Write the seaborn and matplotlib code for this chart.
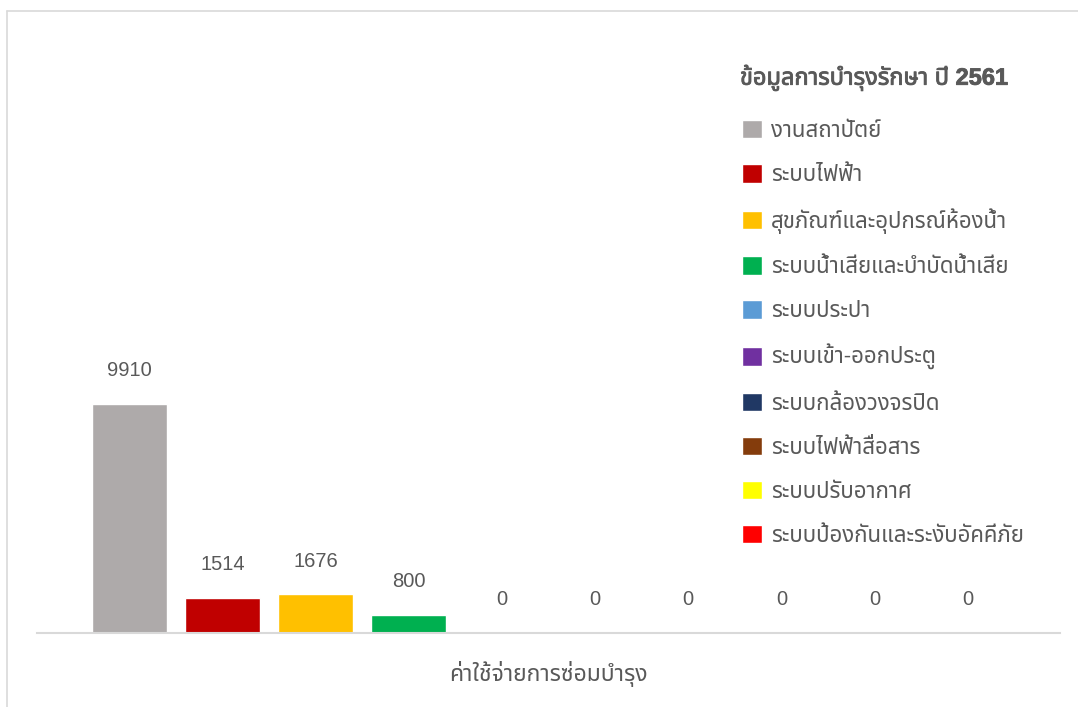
import matplotlib
matplotlib.use("Agg")
import matplotlib.pyplot as plt
import seaborn as sns
import pandas as pd
from matplotlib import font_manager
from matplotlib.ft2font import FT2Font
from matplotlib.lines import Line2D
import matplotlib.patheffects as pe

# ---------------- data ----------------
category = ["ค่าใช้จ่ายการซ่อมบำรุง"]
systems = ["งานสถาปัตย์", "ระบบไฟฟ้า", "สุขภัณฑ์และอุปกรณ์ห้องน้ำ",
           "ระบบน้ำเสียและบำบัดน้ำเสีย", "ระบบประปา", "ระบบเข้า-ออกประตู",
           "ระบบกล้องวงจรปิด", "ระบบไฟฟ้าสื่อสาร", "ระบบปรับอากาศ",
           "ระบบป้องกันและระงับอัคคีภัย"]
values = [9910, 1514, 1676, 800, 0, 0, 0, 0, 0, 0]
colors = ["#AEAAAA", "#C00000", "#FFC000", "#00B050", "#5B9BD5",
          "#7030A0", "#203864", "#843C0C", "#FFFF00", "#FF0000"]
legend_title = "ข้อมูลการบำรุงรักษา ปี 2561"

# ---------------- fonts ----------------
thai_font = None
cands = []
for f in font_manager.fontManager.ttflist:
    try:
        cm = FT2Font(f.fname).get_charmap()
        if 0x0E01 in cm and 0x0E33 in cm:
            cands.append(f.name)
    except Exception:
        pass
pref = ["Noto Sans Thai", "Noto Sans Thai UI", "Loma", "Garuda", "Umpush", "Waree"]
for p in pref:
    if p in cands:
        thai_font = p
        break
if thai_font is None and cands:
    thai_font = cands[0]

sns.set_theme(style="white")
fam = ["Liberation Sans"] + ([thai_font] if thai_font else []) + ["DejaVu Sans"]
plt.rcParams["font.family"] = fam

TXT = "#595959"

df = pd.DataFrame({"cat": category * len(systems), "system": systems, "value": values})

W, H = 1078, 707
fig = plt.figure(figsize=(W / 100, H / 100), dpi=100)
left, right, base = 37, 1060, 633
ymax = 25000
top = base - 229 * ymax / 9910
ax = fig.add_axes([left / W, (H - base) / H, (right - left) / W, (base - top) / H])

sns.barplot(data=df, x="cat", y="value", hue="system", hue_order=systems,
            palette=colors, width=0.911, gap=0.195, dodge=True, ax=ax,
            saturation=1, legend=True)
ax.set_ylim(0, ymax)
ax.set_xlim(-0.5, 0.5)
for c in ax.containers:
    ax.bar_label(c, padding=17, fontsize=14.5, color=TXT)

handles, labels = ax.get_legend_handles_labels()
ax.get_legend().remove()
leg = fig.legend(handles, labels, loc="upper left",
                 bbox_to_anchor=(722 / W, 1 - 100 / H), frameon=False,
                 fontsize=16, handlelength=0.9, handleheight=0.9,
                 handletextpad=0.4, labelspacing=1.0)
for t in leg.get_texts():
    t.set_color(TXT)

fig.text(740 / W, 1 - 78 / H, legend_title, ha="left", va="center",
         fontsize=17, fontweight="bold", color=TXT,
         path_effects=[pe.withStroke(linewidth=0.6, foreground=TXT)])

ax.set_xlabel("")
ax.set_ylabel("")
ax.set_yticks([])
ax.tick_params(axis="x", length=0, pad=20, labelsize=16.5, labelcolor=TXT)
for s in ["left", "right", "top"]:
    ax.spines[s].set_visible(False)
ax.spines["bottom"].set_color("#D9D9D9")
ax.spines["bottom"].set_linewidth(1.5)

# outer chart border (cropped)
fig.add_artist(Line2D([7 / W, 7 / W], [0, 1 - 11 / H], transform=fig.transFigure,
                      color="#D9D9D9", lw=1.2))
fig.add_artist(Line2D([7 / W, 1], [1 - 11 / H, 1 - 11 / H], transform=fig.transFigure,
                      color="#D9D9D9", lw=1.2))

fig.savefig("out.png", dpi=100)
